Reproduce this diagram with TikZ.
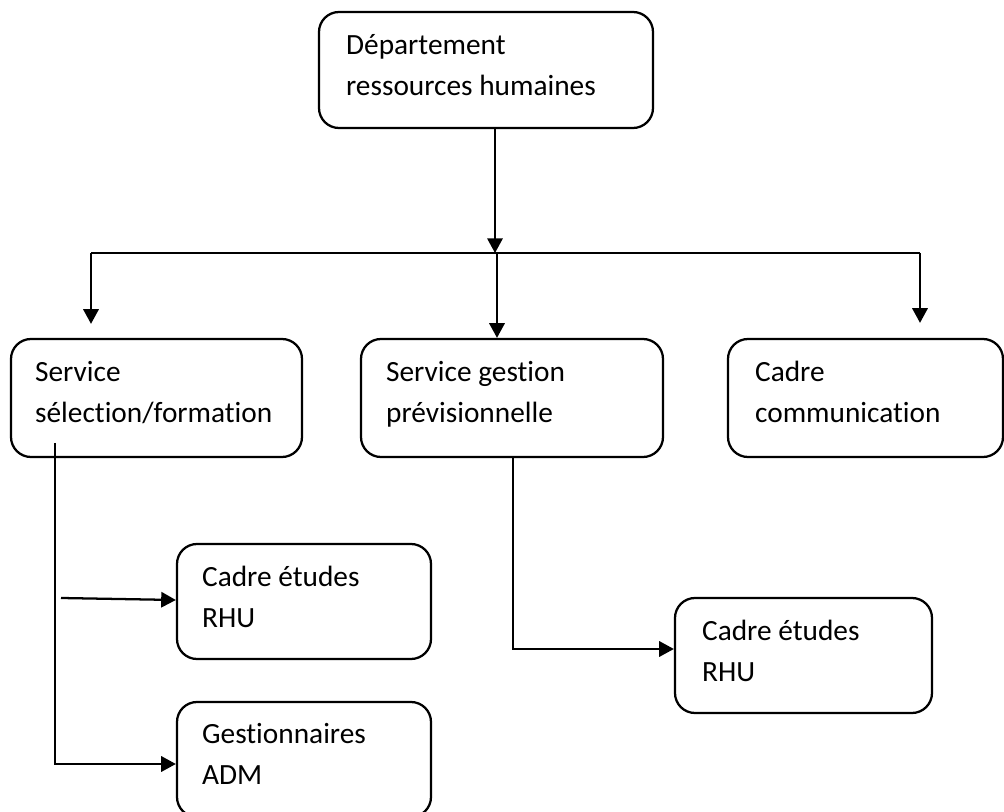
\documentclass[tikz,border=0pt]{standalone}
\usepackage{fontspec}
\setmainfont{Carlito}[Ligatures=NoCommon]
\usetikzlibrary{arrows.meta,calc}
\begin{document}
\begin{tikzpicture}[x=0.75pt,y=-0.75pt,
  unit/.style={draw,line width=1.7pt,rounded corners=15pt,inner sep=0pt},
  span/.style 2 args={minimum width={#1*0.75pt},minimum height={#2*0.75pt}},
  lbl/.style={anchor=base west,inner sep=0pt,align=left,
    font=\fontsize{22}{30.75}\selectfont},
  link/.style={line width=1.7pt},
  arr/.style={link,-{Triangle[length=11pt,width=11.5pt]}}]
\useasboundingbox (0,0) rectangle (1004,812);

% units of the organisation chart
\node[unit,span={334}{116}] (top) at (486,70) {};
\node[unit,span={291}{118}] (s1) at (156.5,398) {};
\node[unit,span={302}{118}] (s2) at (512,398) {};
\node[unit,span={275}{118}] (s3) at (865.5,398) {};
\node[unit,span={254}{115}] (c1) at (304,601.5) {};
\node[unit,span={254}{115}] (g)  at (304,759.5) {};
\node[unit,span={257}{115}] (c2) at (803.5,655.5) {};

% their labels (anchored on the baseline of the second line)
\node[lbl] (top-t) at ($(top.north west)+(28,85)$) {Département\\ressources humaines};
\node[lbl] (s1-t) at ($(s1.north west)+(25,85)$) {Service\\sélection/formation};
\node[lbl] (s2-t) at ($(s2.north west)+(26,85)$) {Service gestion\\prévisionnelle};
\node[lbl] (s3-t) at ($(s3.north west)+(28,85)$) {Cadre\\communication};
\node[lbl] (c1-t) at ($(c1.north west)+(26,85)$) {Cadre études\\RHU};
\node[lbl] (g-t)  at ($(g.north west)+(26,84)$) {Gestionnaires\\ADM};
\node[lbl] (c2-t) at ($(c2.north west)+(28,85)$) {Cadre études\\RHU};

% branching points
\coordinate (j)  at (495,253);
\coordinate (jm) at (497,253);
\coordinate (jl) at (91,253);
\coordinate (jr) at (920,253);
\coordinate (s1o) at (55,443);
\coordinate (c1i) at (61,598);
\coordinate (s2o) at (513,0);

% connectors
\draw[arr] (top.south -| j) -- (j);
\draw[link] (jl) -- (jr);
\draw[arr] (jl) -- ($(jl |- s1.north)+(0,-14)$);
\draw[arr] (jm) -- (jm |- s2.north);
\draw[arr] (jr) -- ($(jr |- s3.north)+(0,-15)$);
\draw[arr] (s1o) |- ($(g.west)+(0,4.5)$);
\draw[arr] (c1i) -- ($(c1.west)+(0,-1.5)$);
\draw[arr] (s2.south -| s2o) |- ($(c2.west)+(0,-6.5)$);
\end{tikzpicture}
\end{document}
